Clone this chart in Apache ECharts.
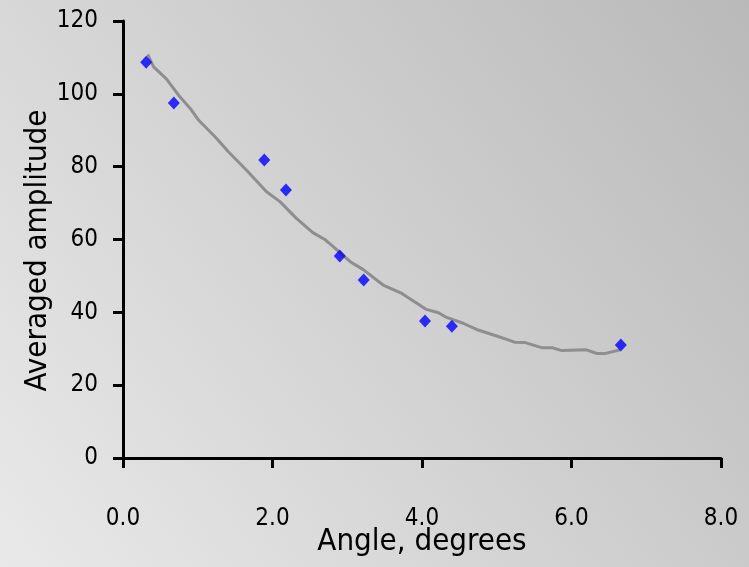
<!DOCTYPE html>
<html>
<head>
<meta charset="utf-8">
<script src="https://cdn.jsdelivr.net/npm/echarts@6/dist/echarts.min.js"></script>
<style>
  html, body { margin: 0; padding: 0; }
  #chart { width: 749px; height: 567px; }
</style>
</head>
<body>
<div id="chart"></div>
<script>
  // measured points (angle, amplitude)
  const pointAngles = [0.31, 0.68, 1.89, 2.18, 2.90, 3.22, 4.04, 4.40, 6.66];
  const pointAmps = [108.7, 97.5, 81.8, 73.6, 55.5, 48.9, 37.6, 36.2, 31.0];

  // grey fit curve
  const curveAngles = [0.33, 0.41, 0.58, 0.76, 0.90, 1.01, 1.25, 1.41, 1.65, 1.92, 2.10, 2.32,
    2.54, 2.70, 2.77, 3.04, 3.21, 3.48, 3.73, 4.06, 4.22, 4.33, 4.55, 4.73, 5.00, 5.24, 5.38,
    5.60, 5.74, 5.87, 6.20, 6.34, 6.45, 6.65];
  const curveAmps = [110.8, 107.4, 104.1, 99.2, 96.0, 92.8, 87.8, 84.1, 79.1, 73.1, 70.4, 65.8,
    61.9, 60.0, 58.8, 53.9, 51.8, 47.5, 45.2, 40.8, 39.9, 38.6, 37.0, 35.3, 33.5, 31.8, 31.7,
    30.3, 30.3, 29.5, 29.7, 28.7, 28.7, 29.7];

  const font = '"Liberation Sans Narrow", "DejaVu Sans Condensed", "Liberation Sans", sans-serif';

  const chart = echarts.init(document.getElementById('chart'));
  chart.setOption({
    animation: false,
    backgroundColor: new echarts.graphic.LinearGradient(0, 1, 1, 0, [
      { offset: 0, color: '#e9e9e9' },
      { offset: 1, color: '#b9b9b9' },
    ]),
    textStyle: { fontFamily: font },
    grid: { left: 123, right: 28, top: 21, bottom: 109, outerBoundsMode: 'none' },
    xAxis: {
      type: 'value',
      min: 0,
      max: 8,
      interval: 2,
      name: 'Angle, degrees',
      nameLocation: 'middle',
      nameGap: 68,
      nameMoveOverlap: false,
      nameTextStyle: { fontSize: 31, color: '#000', fontFamily: font },
      axisLine: { onZero: false, lineStyle: { color: '#000', width: 3 } },
      axisTick: { length: 10, lineStyle: { color: '#000', width: 3 } },
      axisLabel: {
        fontSize: 24, color: '#000', margin: 49, fontFamily: font,
        formatter: v => v.toFixed(1),
      },
      splitLine: { show: false },
    },
    yAxis: {
      type: 'value',
      min: 0,
      max: 120,
      interval: 20,
      name: 'Averaged amplitude',
      nameLocation: 'middle',
      nameGap: 70,
      nameMoveOverlap: false,
      nameTextStyle: { fontSize: 31, color: '#000', fontFamily: font, padding: [0, 22, 0, 0] },
      axisLine: { show: true, lineStyle: { color: '#000', width: 3 } },
      axisTick: { show: true, length: 10, lineStyle: { color: '#000', width: 3 } },
      axisLabel: { fontSize: 24, color: '#000', margin: 25, fontFamily: font },
      splitLine: { show: false },
    },
    series: [
      {
        type: 'line',
        data: curveAngles.map((x, i) => [x, curveAmps[i]]),
        showSymbol: false,
        symbol: 'none',
        lineStyle: { color: '#8e8e8e', width: 3 },
        z: 2,
      },
      {
        type: 'scatter',
        data: pointAngles.map((x, i) => [x, pointAmps[i]]),
        symbol: 'diamond',
        symbolSize: [12, 13],
        itemStyle: { color: '#0000ff' },
        z: 3,
      },
    ],
  });
</script>
</body>
</html>
